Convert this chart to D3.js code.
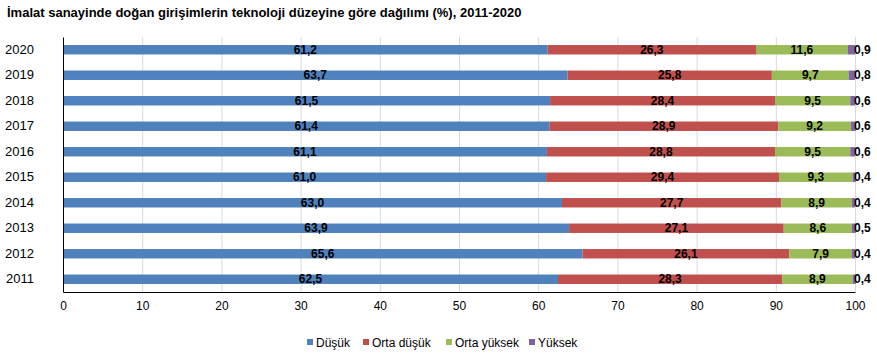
<!DOCTYPE html>
<html lang="tr">
<head>
<meta charset="UTF-8" />
<title>Chart</title>
<style>
  body { margin: 0; background: #fff; }
  text { font-family: "Liberation Sans", Arial, sans-serif; }
  .grid line { stroke: #d9d9d9; }
  .grid path { display: none; }
</style>
</head>
<body>
<div class="chart"></div>
<script src="https://d3js.org/d3.v7.min.js"></script>
<script>
const years = ['2020', '2019', '2018', '2017', '2016', '2015', '2014', '2013', '2012', '2011']
const seriesNames = ['Düşük', 'Orta düşük', 'Orta yüksek', 'Yüksek']
const dusuk = [61.2, 63.7, 61.5, 61.4, 61.1, 61.0, 63.0, 63.9, 65.6, 62.5]
const ortaDusuk = [26.3, 25.8, 28.4, 28.9, 28.8, 29.4, 27.7, 27.1, 26.1, 28.3]
const ortaYuksek = [11.6, 9.7, 9.5, 9.2, 9.5, 9.3, 8.9, 8.6, 7.9, 8.9]
const yuksek = [0.9, 0.8, 0.6, 0.6, 0.6, 0.4, 0.4, 0.5, 0.4, 0.4]
const xTicks = [0, 10, 20, 30, 40, 50, 60, 70, 80, 90, 100]
const colors = ['#4f81bd', '#c0504d', '#9bbb59', '#8064a2']

const width = 877, height = 354
const plot = { left: 63, right: 855, top: 37, bottom: 292 }

const rows = years.map((y, i) => ({
  year: y,
  'Düşük': dusuk[i],
  'Orta düşük': ortaDusuk[i],
  'Orta yüksek': ortaYuksek[i],
  'Yüksek': yuksek[i]
}))
const stacked = d3.stack().keys(seriesNames)(rows)

const svg = d3.select('.chart').append('svg')
  .attr('width', width).attr('height', height)

svg.append('text')
  .attr('x', 7).attr('y', 17)
  .attr('font-size', 13).attr('font-weight', 'bold')
  .text('İmalat sanayinde doğan girişimlerin teknoloji düzeyine göre dağılımı (%), 2011-2020')

const x = d3.scaleLinear().domain([0, 100]).range([plot.left, plot.right])
const y = d3.scaleBand().domain(years).range([plot.top, plot.bottom]).paddingInner(0.63).paddingOuter(0.315)

// grid
svg.append('g').attr('class', 'grid')
  .attr('transform', `translate(0,${plot.bottom})`)
  .call(d3.axisBottom(x).tickValues(xTicks.slice(1)).tickSize(-(plot.bottom - plot.top)).tickFormat(''))

// bars
const fmt = d => d.toFixed(1).replace('.', ',')
stacked.forEach((s, si) => {
  const g = svg.append('g')
  g.selectAll('rect').data(s).join('rect')
    .attr('x', d => x(d[0]))
    .attr('y', d => y(d.data.year))
    .attr('width', d => x(d[1]) - x(d[0]))
    .attr('height', y.bandwidth())
    .attr('fill', colors[si])
  g.selectAll('text').data(s).join('text')
    .attr('x', d => si === 3 ? x(100) - 1 : (x(d[0]) + x(d[1])) / 2)
    .attr('y', d => y(d.data.year) + y.bandwidth() / 2 + 4)
    .attr('text-anchor', si === 3 ? 'start' : 'middle')
    .attr('font-size', 12).attr('font-weight', 'bold').attr('fill', '#000')
    .text(d => fmt(d.data[s.key]))
})

// axes
const xAxis = svg.append('g')
  .attr('transform', `translate(0,${plot.bottom})`)
  .call(d3.axisBottom(x).tickValues(xTicks).tickSize(0).tickPadding(9))
xAxis.select('.domain').attr('stroke', '#000')
xAxis.selectAll('text').attr('font-size', 12).attr('fill', '#000')
  .style('font-family', '"Liberation Sans", Arial, sans-serif')

const yAxis = svg.append('g')
  .attr('transform', `translate(${plot.left},0)`)
  .call(d3.axisLeft(y).tickSize(0).tickPadding(29))
yAxis.select('.domain').attr('stroke', '#000')
yAxis.selectAll('text').attr('font-size', 13).attr('fill', '#000')
  .style('font-family', '"Liberation Sans", Arial, sans-serif')

// legend
const legendX = [307, 363, 446, 529]
const legend = svg.append('g')
seriesNames.forEach((n, i) => {
  legend.append('rect').attr('x', legendX[i]).attr('y', 339).attr('width', 6).attr('height', 6).attr('fill', colors[i])
  legend.append('text').attr('x', legendX[i] + 9).attr('y', 347).attr('font-size', 12).attr('fill', '#000').text(n)
})
</script>
</body>
</html>
